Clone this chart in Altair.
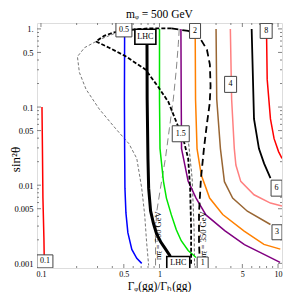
import altair as alt
import pandas as pd

SERIF = "Liberation Serif"

title_text = "mᵩ = 500 GeV"
x_title = "Γᵩ(gg)/Γₕ(gg)"
y_title = "sin²θ"

x_domain = [0.0926, 10.8]
y_domain = [0.000872, 1.19]

x_label_values = [0.1, 0.5, 1, 5, 10]
y_label_values = [0.001, 0.005, 0.01, 0.05, 0.1, 0.5, 1]
x_minor = [0.2, 0.3, 0.4, 0.6, 0.7, 0.8, 0.9, 2, 3, 4, 6, 7, 8, 9]
y_minor = [0.002, 0.003, 0.004, 0.006, 0.007, 0.008, 0.009,
           0.02, 0.03, 0.04, 0.06, 0.07, 0.08, 0.09,
           0.2, 0.3, 0.4, 0.6, 0.7, 0.8, 0.9]

# ---- contour curves ----
c01_x = [0.102, 0.1029, 0.1039, 0.1059, 0.1065]
c01_y = [0.1, 0.0294, 0.00684, 0.00213, 0.00126]
c05_x = [0.508, 0.506, 0.508, 0.511, 0.521, 0.541, 0.584, 0.643, 0.708]
c05_y = [1.0, 0.126, 0.0294, 0.00917, 0.00442, 0.00247, 0.00151, 0.00116, 0.001]
lhc_x = [0.784, 0.787, 0.799, 0.81, 0.841, 0.891, 0.944, 1.019, 1.10, 1.235]
lhc_y = [0.8, 0.126, 0.022, 0.00917, 0.00469, 0.00321, 0.0024, 0.0019, 0.0016, 0.00123]
c1_x = [1.0, 1.0, 1.01, 1.08, 1.144, 1.259, 1.386, 1.525, 1.745, 2.034]
c1_y = [1.0, 0.126, 0.0294, 0.0112, 0.00684, 0.00417, 0.00269, 0.00195, 0.00146, 0.00119]
c15_x = [1.516, 1.525, 1.534, 1.745, 2.034, 2.464, 3.548, 5.207, 7.62, 10.4]
c15_y = [1.0, 0.126, 0.0294, 0.0112, 0.00684, 0.00417, 0.00262, 0.00174, 0.0013, 0.00103]
c2_x = [2.0, 2.014, 2.073, 2.252, 2.647, 3.415, 5.18, 7.6, 10.45]
c2_y = [1.0, 0.126, 0.0294, 0.0135, 0.00684, 0.00421, 0.00259, 0.00175, 0.00152]
c3_x = [3.0, 3.04, 3.265, 3.529, 4.139, 5.51, 8.63]
c3_y = [1.0, 0.126, 0.0294, 0.0111, 0.00684, 0.00465, 0.00314]
c4_x = [3.96, 4.06, 4.276, 4.41, 4.847, 6.27, 8.63, 10.8]
c4_y = [1.0, 0.126, 0.0294, 0.0181, 0.0112, 0.00754, 0.00591, 0.00542]
c6_x = [5.99, 6.27, 6.9, 7.62, 8.63]
c6_y = [1.0, 0.0705, 0.0294, 0.019, 0.0123]
c8_x = [7.99, 8.1, 8.63, 9.26, 10.1, 10.8]
c8_y = [1.0, 0.226, 0.0705, 0.0394, 0.0269, 0.022]

d350_x = [1.259, 1.745, 2.238, 2.512, 2.661, 2.696, 2.647, 2.512, 2.371, 2.238, 2.154, 2.154, 2.196]
d350_y = [1.015, 0.943, 0.726, 0.542, 0.35, 0.184, 0.109, 0.061, 0.0294, 0.0123, 0.00442, 0.00184, 0.00094]
dv_x = [1.259, 0.81, 0.552, 0.414, 0.341, 0.291, 0.376, 0.518, 0.76, 0.981, 1.189, 1.386,
        1.585, 1.745, 1.813, 1.848, 1.848]
dv_y = [1.015, 1.015, 0.971, 0.903, 0.815, 0.691, 0.575, 0.446, 0.303, 0.179, 0.116, 0.0646,
        0.0394, 0.022, 0.00917, 0.00286, 0.00094]
g1_x = [0.668, 0.43, 0.31, 0.233, 0.203, 0.211, 0.24, 0.31, 0.428, 0.552, 0.643, 0.708, 0.75, 0.779, 0.81]
g1_y = [0.985, 0.89, 0.726, 0.575, 0.442, 0.277, 0.169, 0.0944, 0.0527, 0.034, 0.022, 0.00917,
        0.00417, 0.00184, 0.00094]
d500_x = [1.468, 1.44, 1.386, 1.308, 1.211, 1.122, 1.019, 0.944, 0.926, 0.926]
d500_y = [1.0, 0.627, 0.303, 0.126, 0.0527, 0.022, 0.00917, 0.00442, 0.00213, 0.00094]
g2_x = [1.745, 1.884, 1.957, 1.976]
g2_y = [0.0394, 0.0123, 0.00286, 0.00094]

# ---- contour labels ----
label_text = ["0.1", "0.5", "LHC", "2", "8", "4", "1.5", "6", "3", "LHC", "1"]
label_x = [0.108, 0.501, 0.76, 1.995, 7.94, 3.98, 1.511, 9.72, 9.8, 1.44, 2.313]
label_y = [0.00106, 0.971, 0.792, 0.943, 0.943, 0.195, 0.0455, 0.00917, 0.0025, 0.00101, 0.00101]

mass_text = ["mₜ̃ = 500 GeV", "mₜ̃ = 350 GeV"]
mass_x = [0.972, 2.349]
mass_y = [0.00226, 0.00226]

# ---- styles ----
box_w = [16, 16, 21, 11, 12, 12, 17, 11, 10, 23, 11]
box_h = [13, 14, 15, 15, 15, 16, 16, 16, 15, 13, 12]
W = 245
H = 245
tick_color = "#666666"

xs = alt.Scale(type="log", domain=x_domain, nice=False)
ys = alt.Scale(type="log", domain=y_domain, nice=False)

x_axis = alt.Axis(values=x_label_values, labelExpr="format(datum.value, '~g')",
                  title=x_title, ticks=False, tickSize=0, domain=False, grid=False,
                  labelFont=SERIF, labelFontSize=8, labelPadding=2, labelFlush=False,
                  labelOverlap=False, labelColor="black",
                  titleFont=SERIF, titleFontSize=11.5, titleFontWeight="normal", titleColor="black",
                  titleX=122, titleY=21.5, titleBaseline="alphabetic", titleAlign="center")
y_axis = alt.Axis(values=y_label_values,
                  labelExpr="datum.value == 1 ? '1.' : format(datum.value, '~g')",
                  title=y_title, ticks=False, tickSize=0, domain=False, grid=False,
                  labelFont=SERIF, labelFontSize=8.5, labelPadding=4, labelFlush=False,
                  labelOverlap=False, labelColor="black",
                  titleFont=SERIF, titleFontSize=13, titleFontWeight="normal", titleColor="black",
                  titleAngle=270, titleX=-18, titleY=136, titleBaseline="alphabetic", titleAlign="center")

X = lambda f="x": alt.X(f"{f}:Q", scale=xs, axis=x_axis)
Y = lambda f="y": alt.Y(f"{f}:Q", scale=ys, axis=y_axis)


def curve(xv, yv, color, width, dash=None):
    d = pd.DataFrame({"i": range(len(xv)), "x": xv, "y": yv})
    kw = dict(clip=True, color=color, strokeWidth=width)
    if dash:
        kw["strokeDash"] = dash
    return alt.Chart(d).mark_line(**kw).encode(x=X(), y=Y(), order="i:Q")


layers = [
    curve(g1_x, g1_y, "#777777", 1, [3, 2]),
    curve(d500_x, d500_y, "#888888", 1, [7, 4]),
    curve(g2_x, g2_y, "#666666", 1, [3, 2]),
    curve(c01_x, c01_y, "#ff0000", 1.5),
    curve(c05_x, c05_y, "#0000ff", 1.5),
    curve(lhc_x, lhc_y, "#000000", 3),
    curve(c1_x, c1_y, "#00e600", 1.5),
    curve(c15_x, c15_y, "#800080", 1.5),
    curve(c2_x, c2_y, "#ff8000", 1.5),
    curve(c3_x, c3_y, "#996633", 1.5),
    curve(c4_x, c4_y, "#ff8080", 1.5),
    curve(c6_x, c6_y, "#000000", 1.8),
    curve(c8_x, c8_y, "#ff0000", 1.5),
    curve(dv_x, dv_y, "#000000", 1.8, [4, 2]),
    curve(d350_x, d350_y, "#000000", 1.8, [7, 4]),
]

# frame ticks (inside, Mathematica style)
xt = pd.DataFrame({"v": x_label_values + x_minor,
                   "kind": ["major"] * len(x_label_values) + ["minor"] * len(x_minor)})
yt = pd.DataFrame({"v": y_label_values + y_minor,
                   "kind": ["major"] * len(y_label_values) + ["minor"] * len(y_minor)})
for kind, L in (("major", 4), ("minor", 2)):
    dx = xt[xt.kind == kind]
    dy = yt[yt.kind == kind]
    rule = dict(color=tick_color, strokeWidth=0.8)
    layers.append(alt.Chart(dx).mark_rule(**rule).encode(x=X("v"), y=alt.value(H), y2=alt.value(H - L)))
    layers.append(alt.Chart(dx).mark_rule(**rule).encode(x=X("v"), y=alt.value(0), y2=alt.value(L)))
    layers.append(alt.Chart(dy).mark_rule(**rule).encode(y=Y("v"), x=alt.value(0), x2=alt.value(L)))
    layers.append(alt.Chart(dy).mark_rule(**rule).encode(y=Y("v"), x=alt.value(W), x2=alt.value(W - L)))

mass_df = pd.DataFrame({"text": mass_text, "x": mass_x, "y": mass_y})
layers.append(alt.Chart(mass_df).mark_text(font=SERIF, fontSize=8.5, color="black", angle=270).encode(
    x=X(), y=Y(), text="text:N"))


def box_path(w, h):
    a, b = w / 20, h / 20
    return f"M{-a},{-b}H{a}V{b}H{-a}Z"


lab_df = pd.DataFrame({"id": [f"L{k}" for k in range(len(label_text))], "text": label_text,
                       "x": label_x, "y": label_y})
shape_scale = alt.Scale(domain=list(lab_df["id"]),
                        range=[box_path(w, h) for w, h in zip(box_w, box_h)])
plain = lab_df[lab_df.text != "LHC"]
lhcs = lab_df[lab_df.text == "LHC"]
layers.append(alt.Chart(plain).mark_point(filled=True, fill="white", stroke="#444444", strokeWidth=1,
                                          size=400, opacity=1, clip=True).encode(
    x=X(), y=Y(), shape=alt.Shape("id:N", scale=shape_scale, legend=None)))
layers.append(alt.Chart(lhcs).mark_point(filled=True, fill="white", stroke="black", strokeWidth=1.6,
                                         size=400, opacity=1, clip=True).encode(
    x=X(), y=Y(), shape=alt.Shape("id:N", scale=shape_scale, legend=None)))
layers.append(alt.Chart(lab_df).mark_text(font=SERIF, fontSize=8, color="black", clip=True).encode(
    x=X(), y=Y(), text="text:N"))

chart = alt.layer(*layers).properties(
    width=W, height=H,
    title=alt.TitleParams(text=title_text, font=SERIF, fontSize=11.5, fontWeight="normal",
                          color="black", offset=6, dy=12.5, baseline="alphabetic", anchor="middle"),
    autosize=alt.AutoSizeParams(type="none"),
    padding={"left": 29, "top": 15, "right": 1, "bottom": 24},
).configure_view(stroke="#666666", strokeWidth=1).configure(background="white")

chart.save("out.html", embed_options={"renderer": "svg", "actions": False})
